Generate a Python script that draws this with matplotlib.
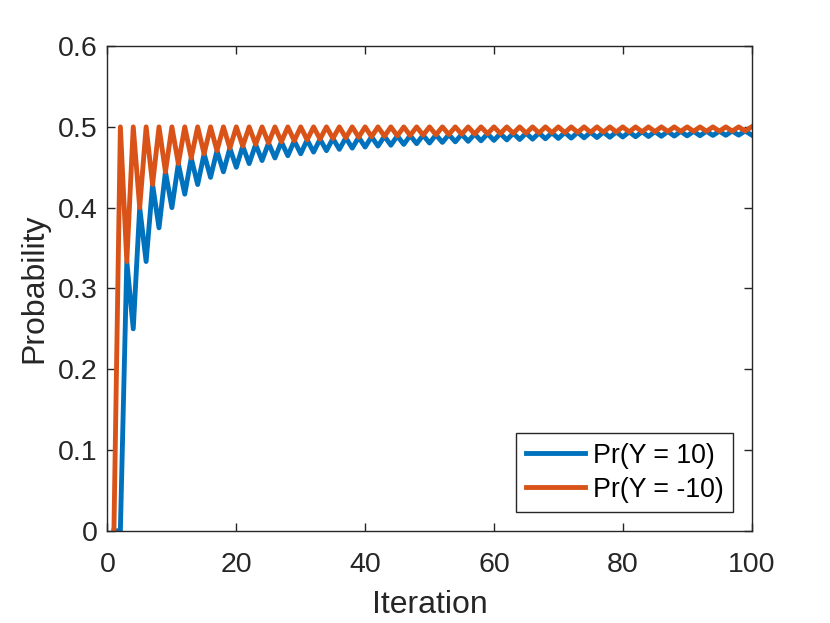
import matplotlib
matplotlib.use("Agg")
import matplotlib.pyplot as plt

plt.rcParams['font.family'] = ['Liberation Sans', 'DejaVu Sans']

iterations = list(range(1, 101))

# Pr(Y = 10)
p_pos = [0.0, 0.0, 0.3333, 0.25, 0.4, 0.3333, 0.4286, 0.375, 0.4444, 0.4,
         0.4545, 0.4167, 0.4615, 0.4286, 0.4667, 0.4375, 0.4706, 0.4444, 0.4737, 0.45,
         0.4762, 0.4545, 0.4783, 0.4583, 0.48, 0.4615, 0.4815, 0.4643, 0.4828, 0.4667,
         0.4839, 0.4688, 0.4848, 0.4706, 0.4857, 0.4722, 0.4865, 0.4737, 0.4872, 0.475,
         0.4878, 0.4762, 0.4884, 0.4773, 0.4889, 0.4783, 0.4894, 0.4792, 0.4898, 0.48,
         0.4902, 0.4808, 0.4906, 0.4815, 0.4909, 0.4821, 0.4912, 0.4828, 0.4915, 0.4833,
         0.4918, 0.4839, 0.4921, 0.4844, 0.4923, 0.4848, 0.4925, 0.4853, 0.4928, 0.4857,
         0.4930, 0.4861, 0.4932, 0.4865, 0.4933, 0.4868, 0.4935, 0.4872, 0.4937, 0.4875,
         0.4938, 0.4878, 0.4940, 0.4881, 0.4941, 0.4884, 0.4943, 0.4886, 0.4944, 0.4889,
         0.4945, 0.4891, 0.4946, 0.4894, 0.4947, 0.4896, 0.4948, 0.4898, 0.4949, 0.49]

# Pr(Y = -10)
p_neg = [0.0, 0.5, 0.3333, 0.5, 0.4, 0.5, 0.4286, 0.5, 0.4444, 0.5,
         0.4545, 0.5, 0.4615, 0.5, 0.4667, 0.5, 0.4706, 0.5, 0.4737, 0.5,
         0.4762, 0.5, 0.4783, 0.5, 0.48, 0.5, 0.4815, 0.5, 0.4828, 0.5,
         0.4839, 0.5, 0.4848, 0.5, 0.4857, 0.5, 0.4865, 0.5, 0.4872, 0.5,
         0.4878, 0.5, 0.4884, 0.5, 0.4889, 0.5, 0.4894, 0.5, 0.4898, 0.5,
         0.4902, 0.5, 0.4906, 0.5, 0.4909, 0.5, 0.4912, 0.5, 0.4915, 0.5,
         0.4918, 0.5, 0.4921, 0.5, 0.4923, 0.5, 0.4925, 0.5, 0.4928, 0.5,
         0.4930, 0.5, 0.4932, 0.5, 0.4933, 0.5, 0.4935, 0.5, 0.4937, 0.5,
         0.4938, 0.5, 0.4940, 0.5, 0.4941, 0.5, 0.4943, 0.5, 0.4944, 0.5,
         0.4945, 0.5, 0.4946, 0.5, 0.4947, 0.5, 0.4948, 0.5, 0.4949, 0.5]

dark = '#262626'
fig = plt.figure(figsize=(8.3, 6.23), dpi=100)
ax = fig.add_axes([0.1295, 0.148, 0.776, 0.778])

ax.plot(iterations, p_pos, color='#0072BD', lw=3.5, label='Pr(Y = 10)')
ax.plot(iterations, p_neg, color='#D95319', lw=3.5, label='Pr(Y = -10)')

ax.set_xlim(0, 100)
ax.set_ylim(0, 0.6)
ax.set_xticks([0, 20, 40, 60, 80, 100])
ax.set_yticks([0, 0.1, 0.2, 0.3, 0.4, 0.5, 0.6])
ax.set_yticklabels(['0', '0.1', '0.2', '0.3', '0.4', '0.5', '0.6'])
ax.tick_params(direction='in', top=True, right=True, length=6, width=1,
               colors=dark, labelsize=20.5)
ax.tick_params(axis='x', pad=15)
ax.tick_params(axis='y', pad=7)
for s in ax.spines.values():
    s.set_color(dark)
    s.set_linewidth(1)

ax.set_xlabel('Iteration', fontsize=23, color=dark, labelpad=9)
ax.set_ylabel('Probability', fontsize=23, color=dark, labelpad=6)

leg = ax.legend(loc='lower right', fontsize=19.3, fancybox=False, framealpha=1,
                edgecolor=dark, borderaxespad=0.7, handlelength=2.2,
                handletextpad=0.3, labelspacing=0.3, borderpad=0.35)
leg.get_frame().set_linewidth(1)
for t in leg.get_texts():
    t.set_color('black')

fig.savefig('out.png', dpi=100)
